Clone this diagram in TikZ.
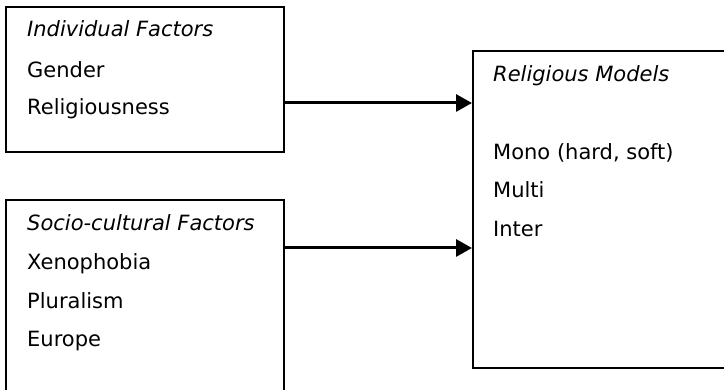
\documentclass[tikz,border=0pt]{standalone}
\usepackage{fontspec}
\setmainfont{DejaVu Sans}
\usetikzlibrary{arrows.meta}
\begin{document}
\begin{tikzpicture}[x=1pt,y=1pt,
  box/.style={draw=black,line width=1.8pt,rectangle,inner sep=0pt,anchor=north west},
  txt/.style={anchor=base west,inner sep=0pt,font=\fontsize{21}{25}\selectfont},
  head/.style={txt,font=\fontsize{21}{25}\selectfont\itshape},
  arr/.style={line width=3pt,-{Triangle[length=16pt,width=17pt]}}]
\useasboundingbox (0,0) rectangle (724,390);
\clip (0,0) rectangle (724,390);
% boxes (y = 390 - image y)
\node[box,minimum width=278pt,minimum height=145pt] (b1) at (5,384) {};
\node[box,minimum width=278pt,minimum height=200pt] (b2) at (5,191) {};
\node[box,minimum width=260pt,minimum height=317pt] (b3) at (472,340) {};
% texts
\node[head] (t11) at (27,353.3) {Individual Factors};
\node[txt] (t12) at (27,312.7) {Gender};
\node[txt] (t13) at (27,275) {Religiousness};
\node[head] (t21) at (27,159) {Socio-cultural Factors};
\node[txt] (t22) at (27,120) {Xenophobia};
\node[txt] (t23) at (27,81) {Pluralism};
\node[txt] (t24) at (27,43) {Europe};
\node[head] (t31) at (493,308) {Religious Models};
\node[txt] (t32) at (493,230) {Mono (hard, soft)};
\node[txt] (t33) at (493,192) {Multi};
\node[txt] (t34) at (493,153) {Inter};
% arrows
\coordinate (y1) at (0,287);
\coordinate (y2) at (0,142);
\draw[arr] (b1.east |- y1) -- (b3.west |- y1);
\draw[arr] (b2.east |- y2) -- (b3.west |- y2);
\end{tikzpicture}
\end{document}
